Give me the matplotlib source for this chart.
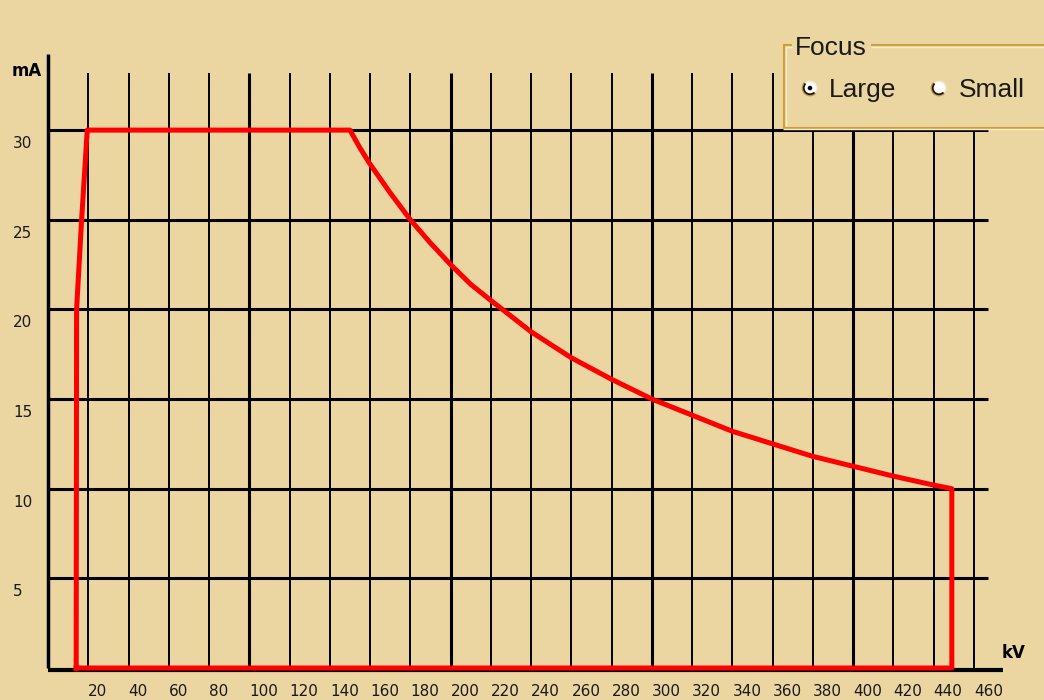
import matplotlib
matplotlib.use("Agg")
import matplotlib.pyplot as plt
from matplotlib.transforms import Affine2D
from matplotlib.patches import Rectangle, Circle, Arc
from matplotlib.lines import Line2D

# ---- data ----
x_ticks = list(range(20, 461, 20))          # kV tick labels
y_ticks = [5, 10, 15, 20, 25, 30]           # mA tick labels
curve_kv = [14, 449, 449, 440, 420, 400, 380, 360, 340, 320, 300, 280, 260,
            240, 220, 210, 200, 190, 180, 170, 160, 155, 150, 19.5, 16.7, 14.2, 14]
curve_ma = [0, 0, 10, 10.2, 10.7, 11.25, 11.8, 12.5, 13.2, 14.1, 15, 16.1, 17.3,
            18.75, 20.5, 21.4, 22.5, 23.7, 25, 26.5, 28.1, 29.0, 30, 30, 25, 20, 0]
x_label = "kV"
y_label = "mA"
legend_title = "Focus"
legend_options = ["Large", "Small"]

# ---- layout ----
W, H = 1044, 700
BG = "#EBD5A0"
X0, SX = 48.0, 2.013     # pixel of 0 kV, px per kV
Y0, SY = 668.0, 17.93    # pixel (from top) of 0 mA, px per mA

fig = plt.figure(figsize=(W / 100, H / 100), dpi=100, facecolor=BG)
ax = fig.add_axes([0, 0, 1, 1])
ax.set_facecolor(BG)
ax.set_xlim(-X0 / SX, (W - X0) / SX)
ax.set_ylim((Y0 - H) / SY, Y0 / SY)
ax.axis("off")

# pixel transform (x from left, y from top)
T = Affine2D().scale(1 / W, -1 / H).translate(0, 1) + fig.transFigure

def kv_px(p):
    return (p - X0) / SX

def ma_px(p):
    return (Y0 - p) / SY

grid_top = ma_px(73)
hgrid_right = kv_px(988)

# vertical grid lines
for v in x_ticks:
    lw = 2.2 if v % 100 == 0 else 1.4
    ax.plot([v, v], [0, grid_top], color="black", lw=lw, solid_capstyle="butt", zorder=2)
# horizontal grid lines
for m in y_ticks:
    ax.plot([0, hgrid_right], [m, m], color="black", lw=2.2, solid_capstyle="butt", zorder=2)

# axes lines
ax.plot([0, 0], [0, ma_px(54)], color="black", lw=2.5, solid_capstyle="butt", zorder=3)
ax.plot([0, kv_px(1003)], [-0.1, -0.1], color="black", lw=3.0, solid_capstyle="butt", zorder=3)

# red limit curve
ax.plot(curve_kv, curve_ma, color="#FF0000", lw=3.6, solid_joinstyle="round", zorder=4)

# tick labels
for v in x_ticks:
    ax.text(v, ma_px(696), str(v), ha="left", va="baseline", fontsize=11,
            family="DejaVu Sans", color="#1a1a1a")
for m in y_ticks:
    ax.text(kv_px(13), m - 18 / SY, str(m), ha="left", va="baseline", fontsize=11,
            family="DejaVu Sans", color="#1a1a1a")

# axis labels
fig.text(12, 76, y_label, transform=T, ha="left", va="baseline", fontsize=12,
         fontweight="bold", family="DejaVu Sans", color="black")
fig.text(1002, 658, x_label, transform=T, ha="left", va="baseline", fontsize=12,
         fontweight="bold", family="DejaVu Sans", color="black")

# ---- legend group box ----
GOLD = "#D39E32"
LIGHT = "#FAF0D6"
fig.patches.append(Rectangle((783, 44), 270, 84, transform=T, facecolor=BG,
                             edgecolor="none", zorder=5))
def seg(x1, y1, x2, y2, c, lw=1.0):
    fig.lines.append(Line2D([x1, x2], [y1, y2], transform=T, color=c, lw=lw,
                            solid_capstyle="butt", zorder=6))
# outer golden lines
seg(783, 44.5, 792, 44.5, GOLD, 1.5)
seg(871, 44.5, 1044, 44.5, GOLD, 1.5)
seg(783.5, 44, 783.5, 128, GOLD, 1.5)
seg(783, 127.5, 1044, 127.5, GOLD, 1.5)
# inner light lines
seg(785.5, 46.5, 792, 46.5, LIGHT, 1.0)
seg(871, 46.5, 1044, 46.5, LIGHT, 1.0)
seg(785.5, 46.5, 785.5, 126, LIGHT, 1.0)
seg(783, 129.3, 1044, 129.3, LIGHT, 1.0)

fig.text(795, 55, legend_title, transform=T, ha="left", va="baseline", fontsize=19,
         family="Liberation Sans", color="#1a1a1a", zorder=7)

radio_x = [810, 939]
text_x = [829, 959]
for i, (rx, tx, lab) in enumerate(zip(radio_x, text_x, legend_options)):
    cy = 88
    fig.patches.append(Circle((rx, cy), 7.5, transform=T, facecolor="#F6EAD0",
                              edgecolor="none", zorder=7))
    fig.patches.append(Circle((rx, cy), 6.0, transform=T, facecolor="white",
                              edgecolor="none", zorder=7))
    fig.patches.append(Arc((rx, cy), 15, 15, theta1=45, theta2=225, transform=T,
                           color="#C89A3A", lw=1.3, zorder=8))
    fig.patches.append(Arc((rx, cy), 12.5, 12.5, theta1=45, theta2=225, transform=T,
                           color="#1a1a1a", lw=1.3, zorder=8))
    if i == 0:
        fig.patches.append(Circle((rx, cy), 2.3, transform=T, facecolor="black",
                                  edgecolor="none", zorder=9))
    fig.text(tx, 97, lab, transform=T, ha="left", va="baseline", fontsize=19,
             family="Liberation Sans", color="#1a1a1a", zorder=7)

fig.savefig("out.png", dpi=100, facecolor=BG)
